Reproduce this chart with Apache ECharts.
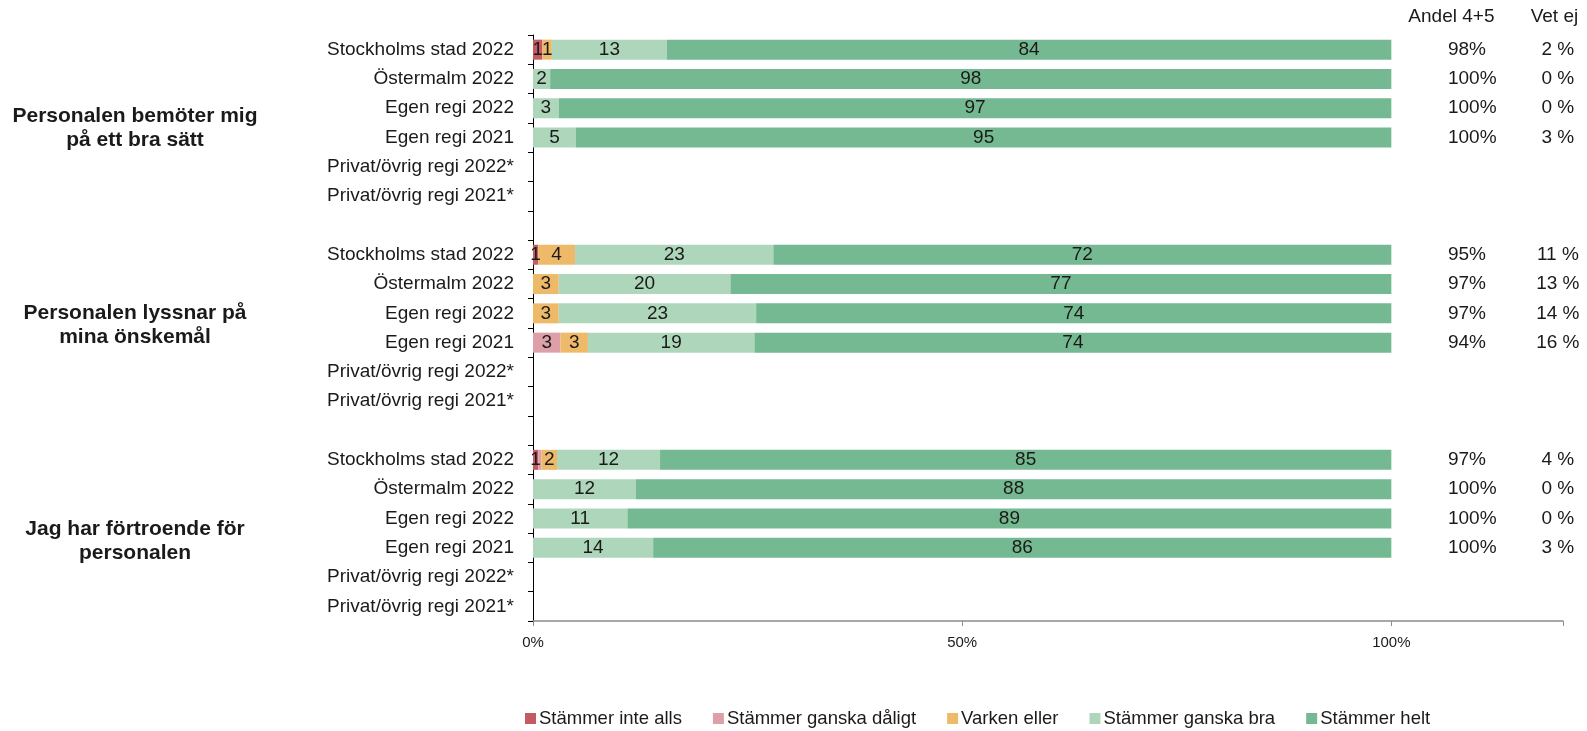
<!DOCTYPE html>
<html>
<head>
<meta charset="utf-8">
<title>Bemötande</title>
<script src="https://cdn.jsdelivr.net/npm/echarts@6/dist/echarts.min.js"></script>
<style>
    html, body { margin: 0; padding: 0; background: #fff; }
    #chart { width: 1587px; height: 731px; }
</style>
</head>
<body>
<div id="chart"></div>
<script>
// rader uppifrån och ned, tomma rader skiljer frågorna åt
const categories = [
    'Stockholms stad 2022', 'Östermalm 2022', 'Egen regi 2022', 'Egen regi 2021',
    'Privat/övrig regi 2022*', 'Privat/övrig regi 2021*', ' ',
    'Stockholms stad 2022', 'Östermalm 2022', 'Egen regi 2022', 'Egen regi 2021',
    'Privat/övrig regi 2022*', 'Privat/övrig regi 2021*', '  ',
    'Stockholms stad 2022', 'Östermalm 2022', 'Egen regi 2022', 'Egen regi 2021',
    'Privat/övrig regi 2022*', 'Privat/övrig regi 2021*'
]

const questions = [
    'Personalen bemöter mig\npå ett bra sätt',
    'Personalen lyssnar på\nmina önskemål',
    'Jag har förtroende för\npersonalen'
]

const seriesNames = ['Stämmer inte alls', 'Stämmer ganska dåligt', 'Varken eller', 'Stämmer ganska bra', 'Stämmer helt']

// andelar i procent (oavrundade, etiketterna avrundas)
const inteAlls = [1.1, 0, 0, 0, null, null, null, 0.6, 0, 0, 0, null, null, null, 0.6, 0, 0, 0, null, null]
const ganskaDaligt = [0, 0, 0, 0, null, null, null, 0, 0, 0, 3.2, null, null, null, 0.4, 0, 0, 0, null, null]
const varkenEller = [1.1, 0, 0, 0, null, null, null, 4.3, 3, 3, 3.2, null, null, null, 1.8, 0, 0, 0, null, null]
const ganskaBra = [13.4, 2, 3, 5, null, null, null, 23.1, 20, 23, 19.4, null, null, null, 12, 12, 11, 14, null, null]
const helt = [84.4, 98, 97, 95, null, null, null, 72, 77, 74, 74.2, null, null, null, 85.2, 88, 89, 86, null, null]

const andel45 = [98, 100, 100, 100, null, null, null, 95, 97, 97, 94, null, null, null, 97, 100, 100, 100, null, null]
const vetEj = [2, 0, 0, 3, null, null, null, 11, 13, 14, 16, null, null, null, 4, 0, 0, 3, null, null]

const xTicks = [0, 50, 100]

const colors = ['#C45A64', '#DDA0A8', '#EEBA6A', '#ADD6BB', '#74B991']
const FONT = '"Liberation Sans", Arial, sans-serif'
const TEXT = '#1a1a1a'

// x-läge för kolumnerna till höger, i axelns enheter
const ANDEL_X = 106.6
const VET_X = 119.4

window.addEventListener('load', renderChart)

function renderChart() {
    const chartEle = document.querySelector('#chart')
    const chart = echarts.init(chartEle)

    const valueSets = [inteAlls, ganskaDaligt, varkenEller, ganskaBra, helt]

    const barSeries = seriesNames.map((name, i) => {
        return {
            name: name,
            type: 'bar',
            stack: 'total',
            barWidth: 20,
            data: valueSets[i],
            itemStyle: {
                color: colors[i]
            },
            label: {
                show: true,
                position: 'inside',
                color: TEXT,
                fontFamily: FONT,
                fontSize: 19,
                formatter: p => (p.value >= 0.5 ? Math.round(p.value) + '' : '')
            },
            emphasis: { disabled: true }
        }
    })

    const option = {
        animation: false,
        color: colors,
        grid: {
            left: 533,
            right: 24,
            top: 35,
            bottom: 110,
        },
        legend: {
            data: seriesNames,
            left: 520,
            top: 704,
            icon: 'rect',
            itemWidth: 11,
            itemHeight: 11,
            itemGap: 31,
            textStyle: {
                fontFamily: FONT,
                fontSize: 18.5,
                color: TEXT,
                padding: [0, 0, 0, -2]
            }
        },
        xAxis: {
            type: 'value',
            min: 0,
            max: 120,
            interval: 50,
            splitLine: { show: false },
            axisLine: {
                show: true,
                lineStyle: { color: '#8c8c8c', width: 1.5 }
            },
            axisTick: {
                show: true,
                length: 5,
                lineStyle: { color: '#8c8c8c' }
            },
            axisLabel: {
                margin: 14,
                fontFamily: FONT,
                fontSize: 15,
                color: TEXT,
                formatter: v => (xTicks.indexOf(v) >= 0 ? v + '%' : '')
            }
        },
        yAxis: {
            type: 'category',
            inverse: true,
            data: categories,
            axisLine: {
                show: true,
                lineStyle: { color: '#000', width: 1 }
            },
            axisTick: {
                show: true,
                length: 5,
                interval: 0,
                lineStyle: { color: '#000' }
            },
            axisLabel: {
                interval: 0,
                margin: 19,
                fontFamily: FONT,
                fontSize: 19,
                color: TEXT
            }
        },
        series: [
            ...barSeries,
            genColumnSeries(andel45, ANDEL_X, 'left', v => v + '%'),
            genColumnSeries(vetEj, VET_X, 'center', v => v + ' %')
        ]
    }

    chart.setOption(option)

    // rubriker ovanför kolumnerna och frågetexterna till vänster
    const andelX = chart.convertToPixel({ xAxisIndex: 0 }, 107)
    const vetX = chart.convertToPixel({ xAxisIndex: 0 }, 119)
    const questionTops = [128, 325, 541]

    chart.setOption({
        graphic: [
            genText('Andel 4+5', andelX, 17, 'normal', 19),
            genText('Vet ej', vetX, 17, 'normal', 19),
            ...questions.map((q, i) => genText(q, 135, questionTops[i], 'bold', 21))
        ]
    })
}

function genColumnSeries(values, xPos, align, fmt) {
    const data = []
    values.forEach((v, i) => {
        if (v !== null) {
            data.push({ value: [xPos, i], shown: v })
        }
    })
    return {
        type: 'scatter',
        symbol: 'rect',
        symbolSize: 1,
        silent: true,
        data: data,
        itemStyle: { color: '#fff' },
        label: {
            show: true,
            position: 'inside',
            align: align,
            color: TEXT,
            opacity: 1,
            fontFamily: FONT,
            fontSize: 19,
            formatter: p => fmt(p.data.shown)
        }
    }
}

function genText(text, x, y, weight, size) {
    return {
        type: 'text',
        x: x,
        y: y,
        style: {
            text: text,
            fill: TEXT,
            font: weight + ' ' + size + 'px ' + FONT,
            align: 'center',
            verticalAlign: 'middle',
            lineHeight: 24
        }
    }
}
</script>
</body>
</html>
